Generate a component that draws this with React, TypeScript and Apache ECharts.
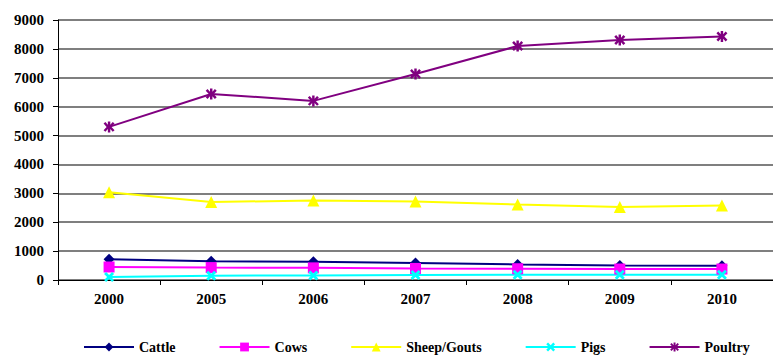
import React, { useEffect, useRef } from "react";
import * as echarts from "echarts";

const years = ["2000", "2005", "2006", "2007", "2008", "2009", "2010"];
const cattle = [720, 650, 630, 590, 540, 500, 490];
const cows = [450, 430, 420, 400, 390, 380, 380];
const sheep = [3040, 2700, 2750, 2720, 2610, 2530, 2580];
const pigs = [100, 150, 160, 170, 180, 180, 180];
const poultry = [5300, 6440, 6200, 7130, 8100, 8310, 8430];
const yTicks = { min: 0, max: 9000, interval: 1000 };

const crossPath =
  "path://M0,2 L2,0 L5,3 L8,0 L10,2 L7,5 L10,8 L8,10 L5,7 L2,10 L0,8 L3,5 Z";
const starPath =
  "path://M4,0 L6,0 L6,3 L8,0.5 L9.5,2 L7,5 L9.5,8 L8,9.5 L6,7 L6,10 L4,10 L4,7 L2,9.5 L0.5,8 L3,5 L0.5,2 L2,0.5 L4,3 Z";

export default function App() {
  const ref = useRef<HTMLDivElement>(null);
  useEffect(() => {
    if (!ref.current) return;
    const chart = echarts.init(ref.current, null, { renderer: "svg" });
    const font = "'Liberation Serif', 'Times New Roman', serif";
    const mk = (name: string, data: number[], color: string, symbol: string, size: number) => ({
      name,
      type: "line",
      data,
      symbol,
      symbolSize: size,
      lineStyle: { color, width: 2 },
      itemStyle: { color },
      emphasis: { disabled: true },
    });
    chart.setOption({
      animation: false,
      backgroundColor: "#fff",
      grid: { left: 58, top: 20, height: 260, width: 726 },
      legend: {
        top: 340,
        left: 83,
        padding: 0,
        itemWidth: 50,
        itemHeight: 11,
        itemGap: 43,
        textStyle: { fontFamily: font, fontWeight: "bold", fontSize: 14, color: "#000" },
        data: ["Cattle", "Cows", "Sheep/Gouts", "Pigs", "Poultry"],
      },
      xAxis: {
        type: "category",
        data: years,
        boundaryGap: true,
        axisLine: { lineStyle: { color: "#000", width: 1 } },
        axisTick: { show: true, length: 5, lineStyle: { color: "#000" } },
        axisLabel: {
          fontFamily: font,
          fontWeight: "bold",
          fontSize: 15,
          color: "#000",
          margin: 11,
        },
      },
      yAxis: {
        type: "value",
        min: yTicks.min,
        max: yTicks.max,
        interval: yTicks.interval,
        axisLine: { show: true, lineStyle: { color: "#000", width: 1 } },
        axisTick: { show: true, length: 5, lineStyle: { color: "#000" } },
        splitLine: { show: true, lineStyle: { color: "#555", width: 1.5 } },
        axisLabel: {
          fontFamily: font,
          fontWeight: "bold",
          fontSize: 15,
          color: "#000",
          margin: 14,
          formatter: (v: number) => String(v),
        },
      },
      series: [
        mk("Cattle", cattle, "#000080", "diamond", 11),
        mk("Cows", cows, "#FF00FF", "rect", 11),
        mk("Sheep/Gouts", sheep, "#FFFF00", "triangle", 12),
        mk("Pigs", pigs, "#00FFFF", crossPath, 10),
        mk("Poultry", poultry, "#800080", starPath, 11),
      ],
    });
    return () => chart.dispose();
  }, []);
  return (
    <div
      style={{
        position: "fixed",
        left: 0,
        top: 0,
        width: 773,
        height: 356,
        overflow: "hidden",
        background: "#fff",
      }}
    >
      <div ref={ref} style={{ width: 773, height: 356, overflow: "hidden" }} />
    </div>
  );
}
